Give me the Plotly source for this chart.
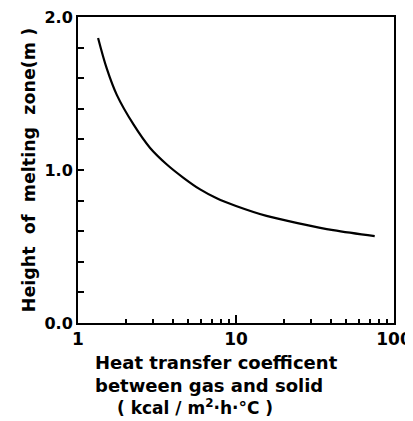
import plotly.graph_objects as go

# Data
h_coeff = [1.34, 1.52, 1.76, 2.25, 2.86, 3.65, 4.65, 5.93, 7.55, 10.0, 15.6, 25.4, 41.2, 75.5]
height_m = [1.863, 1.664, 1.491, 1.296, 1.144, 1.036, 0.949, 0.873, 0.815, 0.765, 0.700, 0.650, 0.607, 0.568]

x_ticks = [1, 10, 100]
x_tick_labels = ["1", "10", "100"]
y_ticks = [0.0, 1.0, 2.0]
y_tick_labels = ["0.0", "1.0", "2.0"]

x_title_lines = ["Heat transfer coefficent", "between gas and solid", "( kcal / m<sup>2</sup>·h·°C )"]
y_title = "Height  of  melting  zone(m )"

FONT = "DejaVu Sans"

# The page body has an 8px default margin, so the figure is 8px smaller
# and every position is offset by 8px.
W, H = 405, 413
plot_l, plot_r, plot_t, plot_b = 70, 386.5, 9, 314.7

fig = go.Figure()
fig.add_trace(go.Scatter(x=h_coeff, y=height_m, mode="lines",
                         line=dict(color="black", width=2.2, shape="spline"),
                         showlegend=False, hoverinfo="skip"))

fig.update_xaxes(type="log", range=[0, 2], tickvals=x_ticks, ticktext=x_tick_labels,
                 ticks="inside", ticklen=8, tickwidth=2, tickcolor="black",
                 minor=dict(ticks="inside", ticklen=4, tickwidth=2, tickcolor="black",
                            dtick="D1", showgrid=False),
                 showline=True, linewidth=2, linecolor="black", mirror=True,
                 showgrid=False, zeroline=False, automargin=False,
                 ticklabeloverflow="allow",
                 tickfont=dict(family=FONT, size=17, color="black", weight="bold"))
fig.update_yaxes(range=[0, 2], tickvals=y_ticks, ticktext=y_tick_labels,
                 ticks="inside", ticklen=6, tickwidth=2, tickcolor="black",
                 minor=dict(ticks="inside", ticklen=6, tickwidth=2, tickcolor="black",
                            dtick=0.2, showgrid=False),
                 showline=True, linewidth=2, linecolor="black", mirror=True,
                 showgrid=False, zeroline=False, automargin=False,
                 ticklabeloverflow="allow",
                 tickfont=dict(family=FONT, size=16, color="black", weight="bold"),
                 title=dict(text=y_title,
                            font=dict(family=FONT, size=17.5, color="black", weight="bold"),
                            standoff=4))

line_y = [354, 377, 399]
line_x = [85, 85, 107]
line_size = [18, 18, 17]
for txt, px, py, fs in zip(x_title_lines, line_x, line_y, line_size):
    fig.add_annotation(text=txt, xref="paper", yref="paper",
                       x=(px - plot_l) / (plot_r - plot_l),
                       y=(plot_b - py) / (plot_b - plot_t),
                       xanchor="left", yanchor="middle", showarrow=False,
                       font=dict(family=FONT, size=fs, color="black", weight="bold"))

fig.update_layout(width=W, height=H,
                  margin=dict(l=plot_l, r=W - plot_r, t=plot_t, b=H - plot_b),
                  plot_bgcolor="white", paper_bgcolor="white")

fig.write_html("out.html")
